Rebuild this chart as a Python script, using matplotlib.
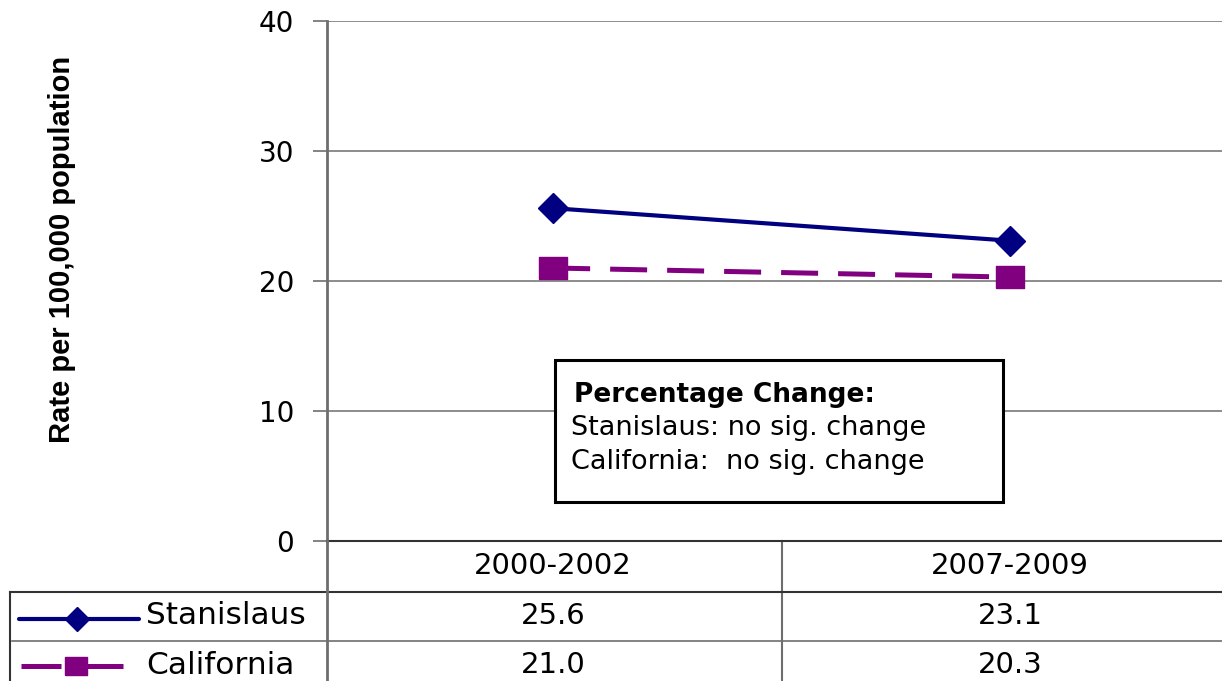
import matplotlib
matplotlib.use("Agg")
import matplotlib.pyplot as plt
import matplotlib.transforms as mtrans
from matplotlib.lines import Line2D
from matplotlib.patches import Rectangle

# data
periods = ["2000-2002", "2007-2009"]
stanislaus = [25.6, 23.1]
california = [21.0, 20.3]
series_names = ["Stanislaus", "California"]
yticks = [0, 10, 20, 30, 40]

NAVY = "#000080"
PURPLE = "#800080"
GRID = "#6e6e6e"
# squarish marker a bit wider than tall, like the original
RECT = [(-1, -0.786), (1, -0.786), (1, 0.786), (-1, 0.786), (-1, -0.786)]

plt.rcParams['font.family'] = ['DejaVu Sans']

W, H = 1222, 681
fig = plt.figure(figsize=(W / 100, H / 100), dpi=100)

def fx(px):
    return px / W

def fy(py):
    return 1 - py / H

ax = fig.add_axes([fx(327), fy(541), 1 - fx(327), fy(21) - fy(541)])
x = list(range(len(periods)))

ax.plot(x, stanislaus, color=NAVY, lw=3.0, marker="D", ms=15,
        mec=NAVY, mfc=NAVY, zorder=4, clip_on=False)
ax.plot(x, california, color=PURPLE, lw=3.6, marker=RECT, ms=20,
        mec=PURPLE, mfc=PURPLE, dashes=(7.4, 4.0), zorder=4, clip_on=False)

ax.set_xlim(-0.495, 1.464)
ax.set_ylim(0, 40)
ax.set_yticks(yticks)
ax.set_yticklabels([str(t) for t in yticks], fontsize=20)
ax.set_xticks([])
ax.tick_params(axis="y", length=10, width=1.2, color=GRID, pad=13.5)
for yv in yticks[1:]:
    ax.axhline(yv, color=GRID, lw=1.1, zorder=1)

for s in ["top", "right", "bottom"]:
    ax.spines[s].set_visible(False)
ax.spines["left"].set_color(GRID)
ax.spines["left"].set_linewidth(2)

# y label
fig.text(fx(62), fy(249), "Rate per 100,000 population", rotation=90,
         ha="center", va="center", fontsize=21, fontweight="bold",
         family="Liberation Sans")

# annotation box
box = Rectangle((fx(555), fy(502)), fx(1003) - fx(555), fy(360) - fy(502),
                transform=fig.transFigure, fill=True, fc="white", ec="black",
                lw=2.2, zorder=5)
fig.add_artist(box)
fig.text(fx(574), fy(395), "Percentage Change:", fontsize=19,
         fontweight="bold", va="center", ha="left", zorder=6)
fig.text(fx(571), fy(428), "Stanislaus: no sig. change", fontsize=19.5,
         va="center", ha="left", zorder=6)
fig.text(fx(571), fy(462), "California:  no sig. change", fontsize=19.5,
         va="center", ha="left", zorder=6)

# data table below the axes
blend = mtrans.blended_transform_factory(ax.transData, fig.transFigure)
row_y = [566, 616, 665]

fig.add_artist(Line2D([fx(327), 1], [fy(541), fy(541)], color="#333333", lw=1.5))
fig.add_artist(Line2D([fx(10), 1], [fy(592), fy(592)], color="#333333", lw=1.5))
fig.add_artist(Line2D([fx(12), 1], [fy(641), fy(641)], color=GRID, lw=1.2))
fig.add_artist(Line2D([fx(10), fx(10)], [fy(592), 0], color="#333333", lw=1.5))
fig.add_artist(Line2D([fx(327), fx(327)], [fy(541), 0], color=GRID, lw=2))
ax.plot([0.5, 0.5], [fy(541), 0], color=GRID, lw=1.5, transform=blend,
        clip_on=False)

for i, p in enumerate(periods):
    ax.text(i, fy(row_y[0]), p, transform=blend, ha="center", va="center",
            fontsize=21)
for r, vals in enumerate([stanislaus, california]):
    for i, v in enumerate(vals):
        ax.text(i, fy(row_y[r + 1]), f"{v:.1f}", transform=blend,
                ha="center", va="center", fontsize=21)

# legend keys in the table
fig.add_artist(Line2D([fx(19), fx(139)], [fy(619), fy(619)], color=NAVY,
                      lw=3.0, solid_capstyle="round"))
fig.add_artist(Line2D([fx(77)], [fy(619)], color=NAVY, marker="D", ms=12,
                      ls="none"))
fig.add_artist(Line2D([fx(21), fx(123)], [fy(666), fy(666)], color=PURPLE,
                      lw=3.6, dashes=(8, 4.4)))
fig.add_artist(Line2D([fx(76)], [fy(666)], color=PURPLE, marker=RECT, ms=16,
                      ls="none"))
for r, name in enumerate(series_names):
    fig.text(fx(146), fy(row_y[r + 1]), name, fontsize=22.5, ha="left",
             va="center")

fig.savefig("out.png", dpi=100)
